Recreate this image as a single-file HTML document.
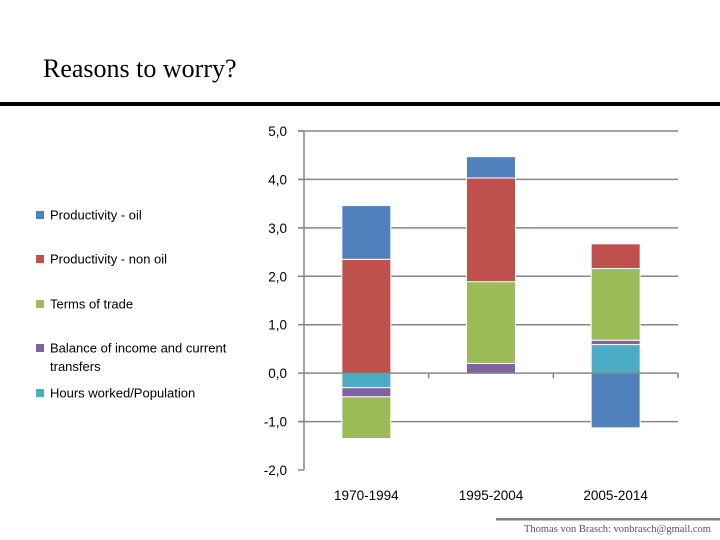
<!DOCTYPE html>
<html><head><meta charset="utf-8"><style>
body{margin:0;width:720px;height:540px;overflow:hidden;background:#fff}
svg{display:block}
</style></head><body>
<svg width="720" height="540" viewBox="0 0 720 540" id="s">
<text x="43" y="77" font-family="Liberation Serif, serif" font-size="26" fill="#000">Reasons to worry?</text>
<rect x="0" y="102" width="720" height="4" fill="#000"/>
<rect x="496" y="518" width="224" height="2.5" fill="#808080"/>
<text x="524" y="532" font-family="Liberation Serif, serif" font-size="10.5" fill="#555">Thomas von Brasch: vonbrasch@gmail.com</text>
<g id="grid"></g>
<g id="bars"></g>
<g id="axes"></g>
<g id="legend"></g>
</svg>
<script>
const categories=["1970-1994","1995-2004","2005-2014"];
const seriesNames=["Hours worked/Population","Balance of income and current transfers","Terms of trade","Productivity - non oil","Productivity - oil"];
const hours=[-0.30,0.00,0.59];
const balance=[-0.19,0.20,0.09];
const tot=[-0.86,1.69,1.48];
const nonOil=[2.35,2.14,0.51];
const oil=[1.11,0.44,-1.13];
const yTicks=[5,4,3,2,1,0,-1,-2];
const yTickLabels=["5,0","4,0","3,0","2,0","1,0","0,0","-1,0","-2,0"];
const colors=["#4bacc6","#8064a2","#9bbb59","#c0504d","#4f81bd"];
const legendOrder=[4,3,2,1,0];
const series=[hours,balance,tot,nonOil,oil];
const NS="http://www.w3.org/2000/svg";
const x0=304,x1=678,yMin=-2,yMax=5,py0=470,py1=131;
function yS(v){return py0-(v-yMin)/(yMax-yMin)*(py0-py1);}
const cw=(x1-x0)/categories.length;
function xC(i){return x0+cw*(i+0.5);}
function mk(t,a,p){const e=document.createElementNS(NS,t);for(const k in a)e.setAttribute(k,a[k]);p.appendChild(e);return e;}
const grid=document.getElementById('grid'),bars=document.getElementById('bars'),axes=document.getElementById('axes'),leg=document.getElementById('legend');
yTicks.forEach((v,i)=>{
  if(v!==0&&v!==yMin){const l=mk('line',{x1:x0-6,x2:x1,y1:yS(v),y2:yS(v),stroke:'#868686','stroke-width':1.5},grid);
  
  }
  const tk=mk('line',{x1:x0-6,x2:x0,y1:yS(v),y2:yS(v),stroke:'#868686','stroke-width':1.5},axes);
  
  
  const t=mk('text',{x:287,y:yS(v)+5,'text-anchor':'end','font-family':'Liberation Sans, sans-serif','font-size':13.5,fill:'#000'},axes);
  t.textContent=yTickLabels[i];
  
  
});
const bw=49;
categories.forEach((c,i)=>{
  let pos=0,neg=0;
  series.forEach((s,k)=>{
    const v=s[i];if(v===0)return;
    let a,b;
    if(v>0){a=pos;b=pos+v;pos=b;}else{a=neg;b=neg+v;neg=b;}
    const yt=yS(Math.max(a,b)),yb=yS(Math.min(a,b));
    const r=mk('rect',{x:xC(i)-bw/2,y:yt,width:bw,height:yb-yt,fill:colors[k],stroke:'#fff','stroke-width':1},bars);
    
    
  });
  const t=mk('text',{x:xC(i),y:500,'text-anchor':'middle','font-family':'Liberation Sans, sans-serif','font-size':13.5,fill:'#000'},axes);
  t.textContent=c;
  
  
});
const ax=mk('line',{x1:x0,x2:x0,y1:py1,y2:py0,stroke:'#868686','stroke-width':1.5},axes);


const xa=mk('line',{x1:x0,x2:x1,y1:yS(0),y2:yS(0),stroke:'#868686','stroke-width':1.5},axes);


for(let i=1;i<=categories.length;i++){const t=mk('line',{x1:x0+cw*i,x2:x0+cw*i,y1:yS(0),y2:yS(0)+5,stroke:'#868686','stroke-width':1.5},axes);

}
const ly=[215,259,304,348,393];
legendOrder.forEach((k,j)=>{
  const g=mk('g',{},leg);
  
  
  mk('rect',{x:36,y:ly[j]-4,width:8,height:8,fill:colors[k]},g);
  const t=mk('text',{x:50,y:ly[j]+4.5,'font-family':'Liberation Sans, sans-serif','font-size':13,fill:'#000'},g);
  if(k===1){t.textContent='Balance of income and current';
    const t2=mk('text',{x:50,y:ly[j]+23,'font-family':'Liberation Sans, sans-serif','font-size':13,fill:'#000'},g);t2.textContent='transfers';}
  else t.textContent=seriesNames[k];
});
</script>
</body></html>
